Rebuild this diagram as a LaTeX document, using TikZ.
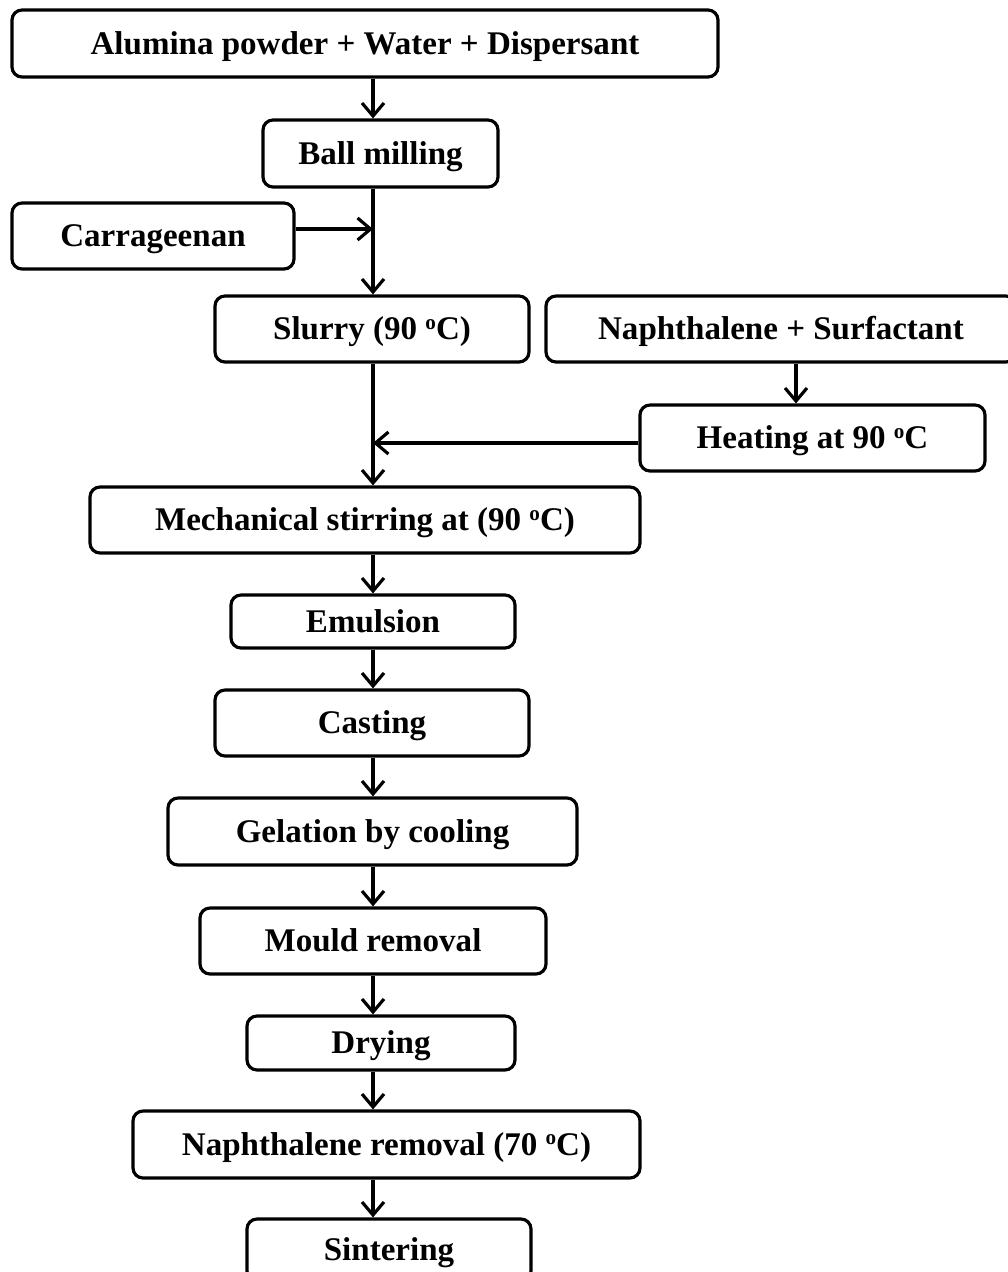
\documentclass[tikz,border=0pt]{standalone}
\usepackage{fontspec}
\setmainfont{Liberation Serif}
\usetikzlibrary{arrows.meta}
\newcommand{\dego}{\raisebox{3.1pt}{\fontsize{6}{6}\selectfont o}}

\begin{document}
\begin{tikzpicture}[
        box/.style={draw, rectangle, rounded corners=0.1cm, line width=0.9pt, inner sep=0pt,
            text height=6.8pt, text depth=0.6pt,
            font=\fontsize{9.4}{11}\selectfont\bfseries},
        arr/.style={-{Straight Barb[length=1.3mm,width=2.2mm]}, line width=0.9pt}
    ]
        \useasboundingbox (0,0) rectangle (10.08,-12.72);
        \coordinate (trunk) at (3.73,0);
        \coordinate (tap) at (7.96,0);

        % Main line of steps
        \node[box, minimum width=7.06cm, minimum height=0.67cm] (alumina) at (3.65,-0.435) {Alumina powder + Water + Dispersant};
        \node[box, minimum width=2.35cm, minimum height=0.67cm] (ball) at (3.805,-1.535) {Ball milling};
        \node[box, minimum width=3.14cm, minimum height=0.66cm] (slurry) at (3.72,-3.29) {Slurry (90 \dego C)};
        \node[box, minimum width=5.50cm, minimum height=0.66cm] (stirring) at (3.65,-5.20) {Mechanical stirring at (90 \dego C)};
        \node[box, minimum width=2.84cm, minimum height=0.53cm] (emulsion) at (3.73,-6.215) {Emulsion};
        \node[box, minimum width=3.14cm, minimum height=0.66cm] (casting) at (3.72,-7.23) {Casting};
        \node[box, minimum width=4.09cm, minimum height=0.67cm] (gelation) at (3.725,-8.315) {Gelation by cooling};
        \node[box, minimum width=3.46cm, minimum height=0.66cm] (mould) at (3.73,-9.41) {Mould removal};
        \node[box, minimum width=2.68cm, minimum height=0.54cm] (drying) at (3.81,-10.43) {Drying};
        \node[box, minimum width=5.07cm, minimum height=0.67cm] (naphrem) at (3.865,-11.445) {Naphthalene removal (70 \dego C)};
        \node[box, minimum width=2.84cm, minimum height=0.62cm] (sinter) at (3.89,-12.50) {Sintering};

        % Side inputs
        \node[box, minimum width=2.82cm, minimum height=0.66cm] (carr) at (1.53,-2.36) {Carrageenan};
        \node[box, minimum width=4.70cm, minimum height=0.66cm] (naph) at (7.81,-3.29) {Naphthalene + Surfactant};
        \node[box, minimum width=3.45cm, minimum height=0.66cm] (heating) at (8.125,-4.38) {Heating at 90 \dego C};

        % Arrows down the main line
        \draw[arr] (alumina.south -| trunk) -- (ball.north -| trunk);
        \draw[arr] (ball.south -| trunk) -- (slurry.north -| trunk);
        \draw[arr] (slurry.south -| trunk) -- (stirring.north -| trunk);
        \draw[arr] (stirring.south -| trunk) -- (emulsion.north -| trunk);
        \draw[arr] (emulsion.south -| trunk) -- (casting.north -| trunk);
        \draw[arr] (casting.south -| trunk) -- (gelation.north -| trunk);
        \draw[arr] (gelation.south -| trunk) -- (mould.north -| trunk);
        \draw[arr] (mould.south -| trunk) -- (drying.north -| trunk);
        \draw[arr] (drying.south -| trunk) -- (naphrem.north -| trunk);
        \draw[arr] (naphrem.south -| trunk) -- (sinter.north -| trunk);

        % Arrows from the side
        \draw[arr] ([yshift=0.07cm]carr.east) -- ([yshift=0.07cm]carr.east -| trunk);
        \draw[arr] (naph.south -| tap) -- (heating.north -| tap);
        \draw[arr] ([yshift=-0.05cm]heating.west) -- ([yshift=-0.05cm]heating.west -| trunk);
    \end{tikzpicture}
\end{document}
